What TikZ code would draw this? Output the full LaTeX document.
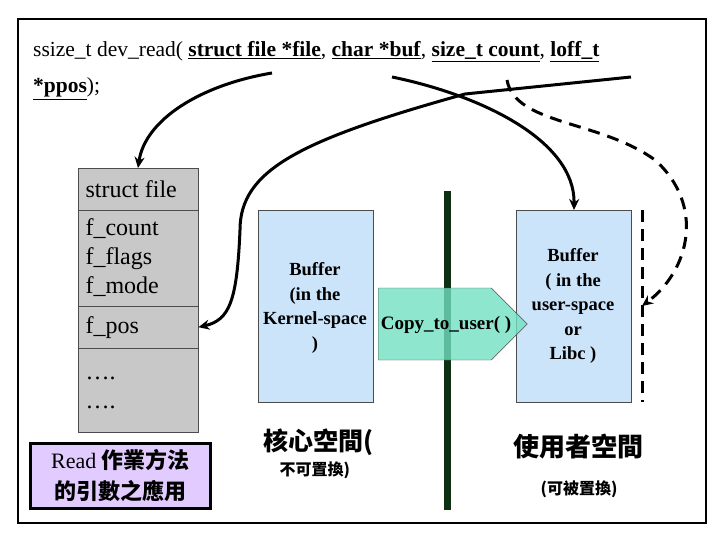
\documentclass[tikz,border=0pt]{standalone}
\usepackage{fontspec}
\setmainfont{Liberation Serif}
\newfontfamily\cjk{Noto Sans CJK TC}
\usetikzlibrary{arrows.meta,shapes.arrows}
\definecolor{tgray}{HTML}{C8C8C8}
\definecolor{lblue}{HTML}{CCE4FA}
\definecolor{lpurp}{HTML}{E2CCFF}
\definecolor{agreen}{HTML}{70E0C0}
\definecolor{dgreen}{HTML}{0F2F12}
\begin{document}
\begin{tikzpicture}[x=1pt,y=-1pt,
  cell/.style={draw=black!70,fill=tgray,minimum width=120pt,anchor=north west,inner sep=0pt},
  ctext/.style={font=\fontsize{24}{29}\selectfont,anchor=west},
  buf/.style={draw=black!70,fill=lblue,anchor=north west,minimum width=115pt,minimum height=192pt,inner sep=0pt},
  btext/.style={font=\bfseries\fontsize{18.5}{24.5}\selectfont,align=center},
  conn/.style={line width=3pt,-{Stealth[length=11pt,width=10pt]}}]
\useasboundingbox (0,0) rectangle (720,540);
\node[draw,line width=2pt,minimum width=688pt,minimum height=504pt,anchor=north west,inner sep=0pt] (frame) at (17,18) {};
% header text
\node[anchor=base west,inner sep=0pt,font=\fontsize{21.5}{24}\selectfont] (sig1) at (33,57) {ssize\_t dev\_read( \underline{\textbf{struct file *file}}, \underline{\textbf{char *buf}}, \underline{\textbf{size\_t count}}, \underline{\textbf{loff\_t}}};
\node[anchor=base west,inner sep=0pt,font=\fontsize{21.5}{24}\selectfont] (sig2) at (33,93) {\underline{\textbf{*ppos}});};
% struct file table
\node[cell,minimum height=42pt] (r1) at (78,168) {};
\node[cell,minimum height=96pt] (r2) at (78,210) {};
\node[cell,minimum height=42pt] (r3) at (78,306) {};
\node[cell,minimum height=84pt] (r4) at (78,348) {};
\node[ctext] (t1) at (82,189) {struct file};
\node[ctext,align=left] (t2) at (82,258) {f\_count\\f\_flags\\f\_mode};
\node[ctext] (t3) at (82,328) {f\_pos};
\node[ctext,align=left] (t4) at (82,393) {….\\….};
% purple box
\node[draw,line width=3pt,fill=lpurp,minimum width=180pt,minimum height=65pt,anchor=north west,inner sep=0pt,align=center,font=\fontsize{22}{31}\selectfont] (rd) at (29,442) {Read {\cjk\bfseries 作業方法}\\{\cjk\bfseries 的引數之應用}};
% buffers
\node[buf] (kb) at (258,210) {};
\node[btext] (kbt) at (315,308) {Buffer\\(in the\\Kernel-space\\)};
\node[buf] (ub) at (516,210) {};
\node[btext] (ubt) at (573,306) {Buffer\\( in the\\user-space\\or\\Libc )};
% divider
\coordinate (dtop) at (447,191);
\coordinate (dbot) at (447,510);
\draw[dgreen,line width=7pt] (dtop) -- (dbot);
% copy arrow
\node[single arrow,draw=black!70,fill=agreen,fill opacity=0.8,text opacity=1,minimum height=149pt,minimum width=72pt,single arrow head extend=0pt,single arrow tip angle=90,inner sep=0pt,anchor=west] (cp) at (378,324) {};
\node[font=\bfseries\fontsize{19}{20}\selectfont] (cpt) at (446,325) {Copy\_to\_user( )};
% dashed vertical
\coordinate (dv1) at (642,210);
\coordinate (dv2) at (642,402);
\draw[line width=3pt,dash pattern=on 12pt off 7pt] (dv1) -- (dv2);
% labels
\node[font=\cjk\bfseries\fontsize{25}{28}\selectfont,anchor=west] (kl) at (260,442) {核心空間(};
\node[font=\cjk\bfseries\fontsize{16}{18}\selectfont,anchor=west] (kl2) at (276,470) {不可置換)};
\node[font=\cjk\bfseries\fontsize{26}{28}\selectfont] (ul) at (578,447) {使用者空間};
\node[font=\cjk\bfseries\fontsize{16}{18}\selectfont] (ul2) at (579,489) {(可被置換)};
% connectors
\coordinate (s1) at (272,73);
\coordinate (s2) at (392,77);
\coordinate (s3) at (631,77);
\coordinate (s4) at (507,80);
\coordinate (x1) at (465,94);
\draw[conn] (s1) .. controls (200,85) and (145,120) .. (r1.north -| 138,0);
\draw[conn] (s2) .. controls (480,95) and (575,140) .. (ub.north -| 574,0);
\draw[conn] (s3) -- (x1) .. controls (300,140) and (240,170) .. (240,230) .. controls (237,300) and (230,320) .. (r3.east);
\draw[line width=3pt,dash pattern=on 12pt off 8pt,-{Stealth[length=11pt,width=10pt]}] (s4) .. controls (515,125) and (600,120) .. (655,160) .. controls (705,205) and (690,270) .. (dv1 |- 0,306);
\end{tikzpicture}
\end{document}
